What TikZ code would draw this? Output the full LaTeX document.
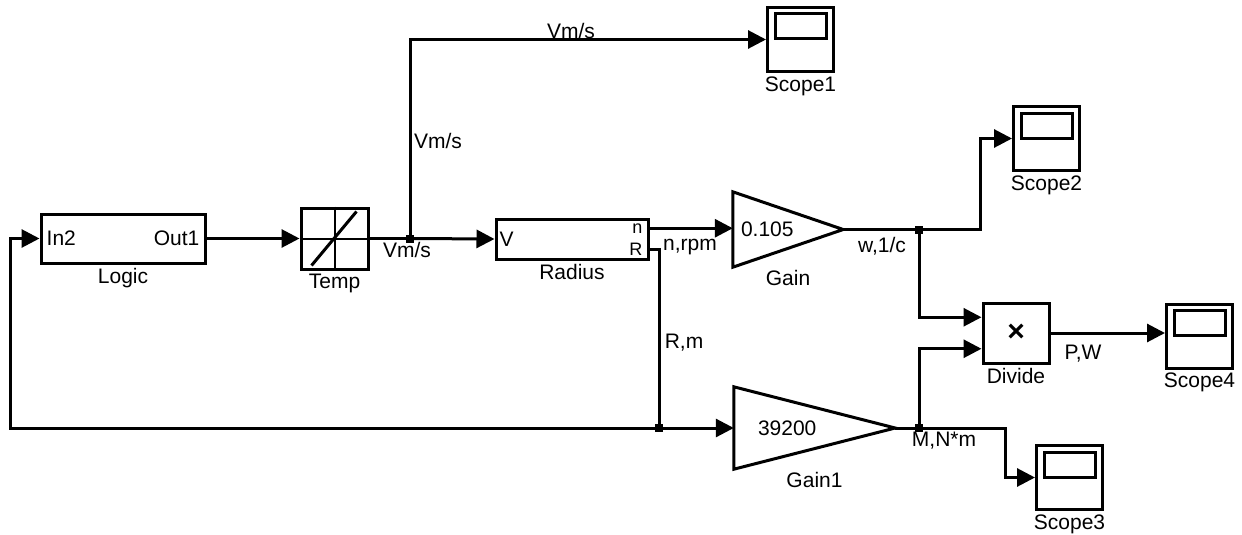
\documentclass[tikz,border=0pt]{standalone}
\usepackage{fontspec}
\setmainfont{Liberation Sans}
\usetikzlibrary{arrows.meta, positioning, calc}
\tikzstyle{block} = [rectangle, draw, line width=3pt, inner sep=0pt]
\tikzstyle{scopebox} = [block, minimum width=66pt, minimum height=64pt]
\tikzstyle{gainbox} = [rectangle, inner ysep=0pt, align=left]
\tikzstyle{port} = [inner sep=7pt]
\tikzstyle{sig} = [line width=3pt, line join=miter]
\tikzstyle{arrow} = [sig, -{Triangle[length=18pt, width=18pt]}]
\tikzstyle{dot} = [rectangle, fill, inner sep=0pt, minimum size=8pt]

\begin{document}
\begin{tikzpicture}[x=1pt, y=-1pt, font=\fontsize{21}{25}\selectfont]
    \useasboundingbox (0,0) rectangle (1242,535);

    % Blocks
    \node[block, minimum width=164pt, minimum height=49pt, label=below:Logic] (logic) at (123,238.5) {};
    \node[port, anchor=west] (in2) at (logic.west) {In2};
    \node[port, anchor=east] (out1) at (logic.east) {Out1};

    \node[block, minimum width=67pt, minimum height=61pt, label=below:Temp] (temp) at (334.5,238.5) {};
    \draw[line width=2pt] (temp.north) -- (temp.south) (temp.west) -- (temp.east);
    \draw[line width=3pt] ($(temp.south west)+(12,-5)$) -- ($(temp.north east)+(-13,5)$);

    \node[block, minimum width=152pt, minimum height=40pt, label=below:Radius] (radius) at (572,239) {};
    \coordinate (rn) at ($(radius.north east)!0.25!(radius.south east)$);
    \coordinate (rR) at ($(radius.north east)!0.75!(radius.south east)$);
    \node[port, anchor=west, inner sep=5pt] (pv) at (radius.west) {V};
    \node[port, anchor=east, font=\fontsize{18}{20}\selectfont] (pn) at (rn) {n};
    \node[port, anchor=east, font=\fontsize{18}{20}\selectfont] (pr) at (rR) {R};

    \node[gainbox, minimum width=110pt, minimum height=75pt, inner xsep=8pt, text width=94pt, label=below:Gain] (gain) at (788,229.5) {0.105};
    \node[gainbox, minimum width=161pt, minimum height=82pt, inner xsep=24pt, text width=113pt, label=below:Gain1] (gain1) at (814.5,428) {39200};
    \foreach \g in {gain, gain1}
        \draw[sig] (\g.north west) -- (\g.east) -- (\g.south west) -- cycle;

    \node[block, minimum width=66pt, minimum height=60pt, label=below:Divide, font=\fontsize{30}{30}\selectfont\bfseries] (divide) at (1016,333) {×};
    \coordinate (div1) at ($(divide.north west)!0.25!(divide.south west)$);
    \coordinate (div2) at ($(divide.north west)!0.75!(divide.south west)$);

    % Scopes
    \node[scopebox, label=below:Scope1] (scope1) at (800.5,39.5) {};
    \node[scopebox, label=below:Scope2] (scope2) at (1046.5,138.5) {};
    \node[scopebox, label=below:Scope3] (scope3) at (1069.5,477.5) {};
    \node[scopebox, label=below:Scope4] (scope4) at (1199.5,336) {};
    \foreach \s in {scope1, scope2, scope3, scope4}
        \draw[line width=3pt] ($(\s.north west)+(9,8)$) rectangle ($(\s.north east)+(-9,33)$);

    % Branch points
    \coordinate (b1) at (410,238.5);
    \coordinate (b2) at (919,229.5);
    \coordinate (b3) at (659,428);
    \coordinate (b4) at (919,428);

    % Signals
    \draw[arrow] (logic.east) -- (temp.west);
    \draw[sig] (temp.east) -- (b1);
    \draw[arrow] (b1) -- (radius.west);
    \draw[arrow] (b1) |- (scope1.west);
    \draw[arrow] (rn) -- (rn -| gain.west);
    \draw[sig] (gain.east) -- (b2);
    \draw[arrow] (b2) -| ($(scope2.west)+(-32,0)$) -- (scope2.west);
    \draw[arrow] (b2) |- (div1);
    \draw[sig] (rR) -| (b3);
    \draw[arrow] (b3) -- (gain1.west);
    \draw[arrow] (b3) -| ($(logic.west)+(-29,0)$) -- (logic.west);
    \draw[sig] (gain1.east) -- (b4);
    \draw[arrow] (b4) |- (div2);
    \draw[arrow] (b4) -| ($(scope3.west)+(-30,0)$) -- (scope3.west);
    \draw[arrow] (divide.east) -- (divide.east -| scope4.west);
    \foreach \b in {b1, b2, b3, b4}
        \node[dot] (d\b) at (\b) {};

    % Signal labels
    \node (lvm1) at (407,250) {Vm/s};
    \node (lvm2) at (571,31) {Vm/s};
    \node (lvm3) at (438,141) {Vm/s};
    \node (lrpm) at (690,247) {n,rpm};
    \node (lw) at (882,246) {w,1/c};
    \node (lrm) at (684,343) {R,m};
    \node (lmn) at (944,441) {M,N*m};
    \node (lpw) at (1083,354) {P,W};
\end{tikzpicture}
\end{document}
